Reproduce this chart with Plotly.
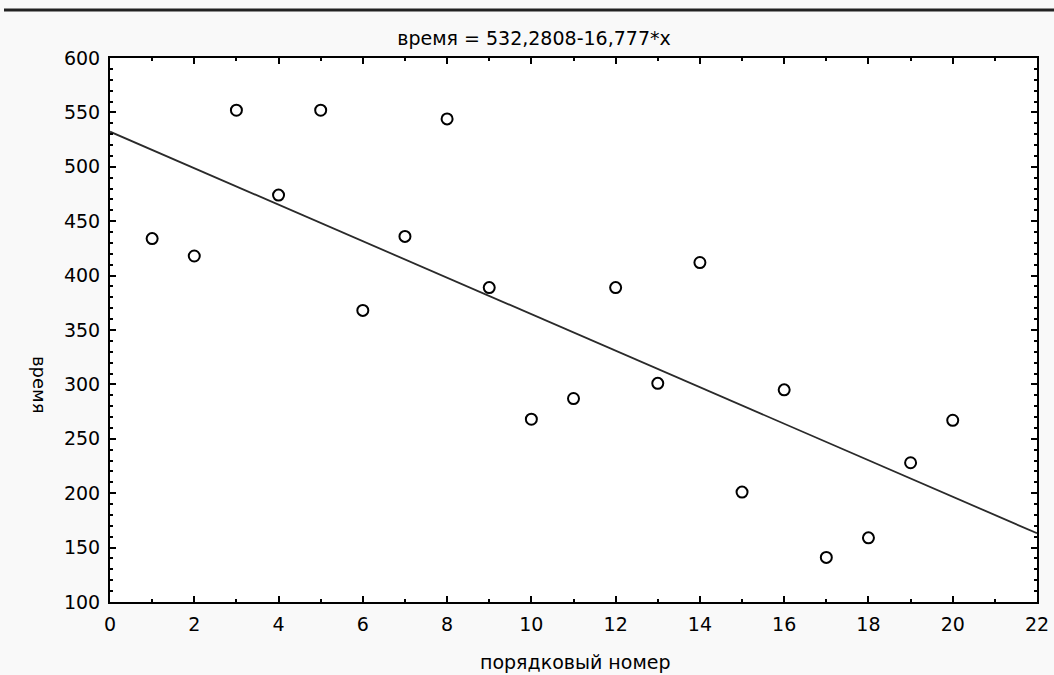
import plotly.graph_objects as go

# data
order_num = [1, 2, 3, 4, 5, 6, 7, 8, 9, 10, 11, 12, 13, 14, 15, 16, 17, 18, 19, 20]
time_vals = [434, 418, 552, 474, 552, 368, 436, 544, 389, 268, 287, 389, 301, 412, 201, 295, 141, 159, 228, 267]
intercept = 532.2808
slope = -16.777
line_x = [0, 22]
line_y = [intercept + slope * v for v in line_x]

x_ticks = list(range(0, 23, 2))
y_ticks = list(range(100, 601, 50))

W, H = 1054, 675
L, R, T, B = 110, 17, 58, 73
pw, ph = W - L - R, H - T - B

fig = go.Figure()
fig.add_trace(go.Scatter(x=line_x, y=line_y, mode="lines",
                         line=dict(color="#2a2a2a", width=1.8), hoverinfo="skip", showlegend=False))
fig.add_trace(go.Scatter(x=order_num, y=time_vals, mode="markers",
                         marker=dict(symbol="circle-open", size=11, color="black", line=dict(width=2)),
                         showlegend=False))

font = "DejaVu Sans, Verdana, sans-serif"
axis_common = dict(showgrid=False, zeroline=False, showline=True, linecolor="black", linewidth=2,
                   mirror="ticks", ticks="inside", ticklen=6, tickwidth=1.5, tickcolor="black",
                   tickfont=dict(family=font, size=19, color="black"))
fig.update_xaxes(range=[0, 22], tickvals=x_ticks, ticktext=[str(v) for v in x_ticks],
                 ticklabelstandoff=4,
                 minor=dict(dtick=1, ticks="inside", ticklen=3, tickcolor="black", tickwidth=1.5),
                 **axis_common)
fig.update_yaxes(range=[100, 600], tickvals=y_ticks, ticktext=[str(v) for v in y_ticks],
                 ticklabelstandoff=4,
                 minor=dict(dtick=10, ticks="inside", ticklen=3, tickcolor="black", tickwidth=1.5),
                 **axis_common)

fig.update_layout(
    width=W, height=H,
    margin=dict(l=L, r=R, t=T, b=B, autoexpand=False),
    paper_bgcolor="#f9f9f9", plot_bgcolor="white",
    title=dict(text="время = 532,2808-16,777*x", x=534 / W, xanchor="center",
               y=1 - 38 / H, yanchor="middle", font=dict(family=font, size=19, color="black")),
    shapes=[dict(type="line", xref="paper", yref="paper",
                 x0=(4 - L) / pw, x1=(W - L) / pw, y0=(H - B - 10) / ph, y1=(H - B - 10) / ph,
                 line=dict(color="#222222", width=3))],
    annotations=[
        dict(text="порядковый номер", xref="paper", yref="paper", x=(575 - L) / pw, y=(H - B - 662) / ph,
             xanchor="center", yanchor="middle", showarrow=False, font=dict(family=font, size=19, color="black")),
        dict(text="время", xref="paper", yref="paper", x=(40 - L) / pw, y=(H - B - 385) / ph,
             xanchor="center", yanchor="middle", textangle=90, showarrow=False,
             font=dict(family=font, size=18, color="black")),
    ],
)

fig.write_html("out.html")
